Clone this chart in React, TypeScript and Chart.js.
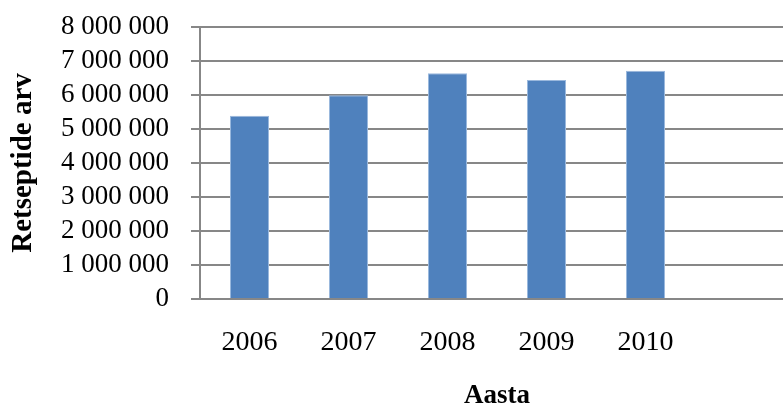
import React, { useEffect, useRef } from 'react';
import { Chart, registerables } from 'chart.js';

Chart.register(...registerables);

const categories: string[] = ['2006', '2007', '2008', '2009', '2010', ''];
const values: (number | null)[] = [5390000, 5990000, 6640000, 6440000, 6710000, null];
const yMin = 0;
const yMax = 8000000;
const yStep = 1000000;
const xTitle = 'Aasta';
const yTitle = 'Retseptide arv';

const FONT = "'Liberation Serif', 'Times New Roman', serif";
const GRID = '#878787';

function fmt(v: number): string {
  return String(Math.round(v)).replace(/\B(?=(\d{3})+(?!\d))/g, ' ');
}

export default function App() {
  const ref = useRef<HTMLCanvasElement | null>(null);

  useEffect(() => {
    if (!ref.current) return;
    const chart = new Chart(ref.current, {
      type: 'bar',
      data: {
        labels: categories,
        datasets: [
          {
            data: values,
            backgroundColor: '#4F81BD',
            borderColor: '#9ab8dd',
            borderWidth: 1,
            categoryPercentage: 1,
            barPercentage: 0.394,
          },
        ],
      },
      options: {
        responsive: false,
        animation: false,
        layout: { padding: { top: 27, right: 6, bottom: 0, left: 0 } },
        plugins: { legend: { display: false }, tooltip: { enabled: false } },
        scales: {
          x: {
            grid: { display: false, drawTicks: false, tickLength: 0 },
            border: { display: true, color: GRID, width: 2 },
            ticks: {
              color: '#000',
              padding: 27,
              font: { family: FONT, size: 28 },
            },
            title: {
              display: true,
              text: xTitle,
              color: '#000',
              font: { family: FONT, size: 27, weight: 'bold' },
              padding: { top: 0, bottom: -7 },
            },
            afterFit: (s: any) => {
              s.height = 106;
              s.paddingLeft = 0;
              s.paddingRight = 0;
            },
          },
          y: {
            min: yMin,
            max: yMax,
            grid: { color: GRID, lineWidth: 2, tickLength: 9, drawTicks: true },
            border: { display: true, color: GRID, width: 2 },
            ticks: {
              stepSize: yStep,
              autoSkip: false,
              color: '#000',
              padding: 22,
              font: { family: FONT, size: 27 },
              callback: (v: any) => fmt(Number(v)),
            },
            title: {
              display: true,
              text: yTitle,
              color: '#000',
              font: { family: FONT, size: 29, weight: 'bold' },
              padding: { top: 6, bottom: 0 },
            },
            afterFit: (s: any) => {
              s.width = 200;
              s.paddingTop = 0;
              s.paddingBottom = 0;
            },
          },
        },
      },
    });
    return () => chart.destroy();
  }, []);

  return (
    <div
      style={{
        position: 'fixed',
        left: 0,
        top: 0,
        width: 783,
        height: 405,
        overflow: 'hidden',
        background: '#fff',
      }}
    >
      <canvas ref={ref} width={800} height={405} style={{ display: 'block' }} />
    </div>
  );
}
